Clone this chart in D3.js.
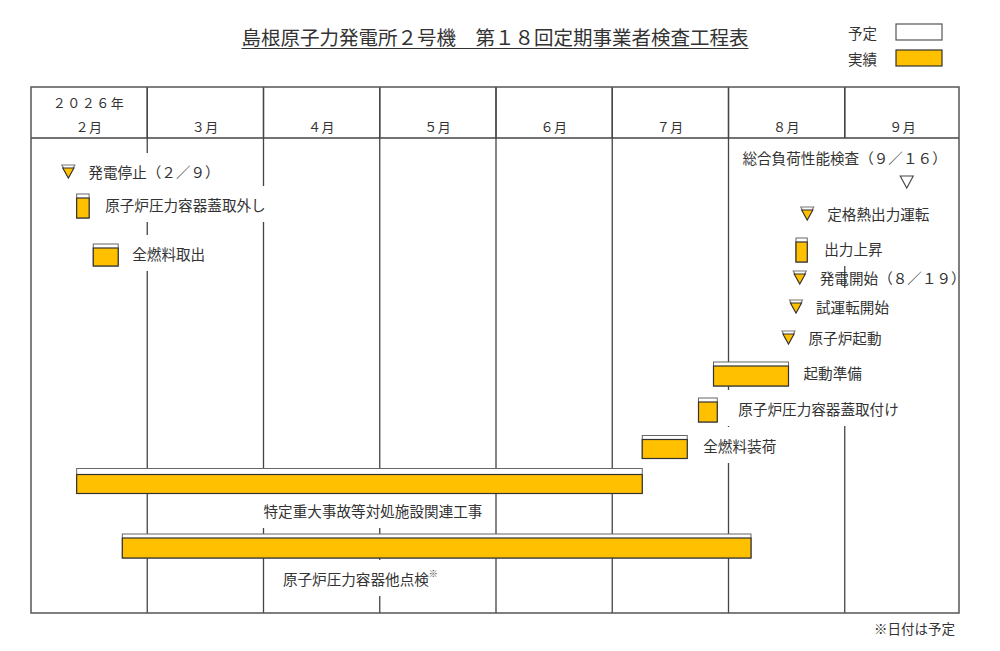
<!DOCTYPE html>
<html>
<head>
<meta charset="utf-8">
<script src="https://cdn.jsdelivr.net/npm/d3@7"></script>
<style>
  body { margin: 0; background: #fff; }
  svg text { font-family: "Noto Sans CJK JP", "Noto Sans", sans-serif; fill: #333; }
</style>
</head>
<body>
<svg id="chart" width="1000" height="651"></svg>
<script>
// ---- data ----
var titleText = '島根原子力発電所２号機　第１８回定期事業者検査工程表';
var yearLabel = '２０２６年';
var months = ['2026-02', '2026-03', '2026-04', '2026-05', '2026-06', '2026-07', '2026-08', '2026-09'];
var monthLabels = ['２月', '３月', '４月', '５月', '６月', '７月', '８月', '９月'];
var legendLabels = ['予定', '実績'];
var footnote = '※日付は予定';

var taskNames = ['原子炉圧力容器蓋取外し', '全燃料取出', '出力上昇', '起動準備',
                 '原子炉圧力容器蓋取付け', '全燃料装荷', '特定重大事故等対処施設関連工事', '原子炉圧力容器他点検'];
var taskStart = ['2026-02-12', '2026-02-16', '2026-08-19', '2026-07-28',
                 '2026-07-24', '2026-07-09', '2026-02-12', '2026-02-23'];
var taskEnd   = ['2026-02-14', '2026-02-21', '2026-08-21', '2026-08-16',
                 '2026-07-28', '2026-07-20', '2026-07-08', '2026-08-06'];
var taskNote  = ['', '', '', '', '', '', '', '※'];

var milestoneNames = ['発電停止（２／９）', '総合負荷性能検査（９／１６）', '定格熱出力運転',
                      '発電開始（８／１９）', '試運転開始', '原子炉起動'];
var milestoneDates = ['2026-02-09', '2026-09-16', '2026-08-21', '2026-08-19', '2026-08-18', '2026-08-16'];
var milestoneDone  = [true, false, true, true, true, true];

// ---- layout ----
var taskRowY   = [206, 255, 250, 374, 410, 447, 481, 546];
var taskBarH   = [24, 22, 24, 24, 24, 23, 25, 24];
var taskLabelDx = [16, 14, 17, 15, 21, 16, 0, 0];
var taskBelow  = [null, null, null, null, null, null, {date: '2026-04-01', y: 510}, {date: '2026-04-06', y: 578}];
var msRowY     = [171, 182, 213, 277, 306, 337];
var msBox      = [true, true, true, false, true, true];

var GOLD = '#FFC000';
var frame = {left: 31, right: 959, top: 87, head: 138, bottom: 613};

var svg = d3.select('#chart');
var parse = d3.timeParse('%Y-%m-%d');
var ym = d3.timeFormat('%Y-%m');

var x = d3.scaleBand().domain(months).range([frame.left, frame.right + 2]);

// position of a date inside its month column; edge 0 = start of day, 1 = end of day
function xDate(s, edge) {
  var d = parse(s);
  var m0 = d3.timeMonth.floor(d);
  var days = d3.timeDay.count(m0, d3.timeMonth.offset(m0, 1));
  return x(ym(d)) + x.bandwidth() * (d.getDate() - 1 + edge) / days;
}

var gridG = svg.append('g');
var boxG = svg.append('g');
var markG = svg.append('g');
var textG = svg.append('g');
var frameG = svg.append('g');

// title
var title = svg.append('text')
  .attr('x', 495).attr('y', 45)
  .attr('text-anchor', 'middle')
  .style('font-size', '19.5px')
  .text(titleText);
var tb = title.node().getBBox();
svg.append('line')
  .attr('x1', tb.x).attr('x2', tb.x + tb.width)
  .attr('y1', 48.5).attr('y2', 48.5)
  .attr('stroke', '#333').attr('stroke-width', 1.2);

// legend
svg.selectAll('.leg-t').data(legendLabels).enter().append('text')
  .attr('x', 848).attr('y', function(d, i) { return 32 + i * 26; })
  .attr('dominant-baseline', 'central')
  .style('font-size', '14.5px')
  .text(function(d) { return d; });
svg.selectAll('.leg-r').data(legendLabels).enter().append('rect')
  .attr('x', 896).attr('y', function(d, i) { return 24 + i * 26; })
  .attr('width', 46).attr('height', 16)
  .attr('fill', function(d, i) { return i ? GOLD : '#fff'; })
  .attr('stroke', function(d, i) { return i ? '#333' : '#555'; })
  .attr('stroke-width', 1.2);

// month grid
gridG.selectAll('line').data(months.slice(1)).enter().append('line')
  .attr('x1', function(d) { return x(d); }).attr('x2', function(d) { return x(d); })
  .attr('y1', frame.top).attr('y2', frame.bottom)
  .attr('stroke', '#444').attr('stroke-width', 1.3);

// header texts
frameG.append('text')
  .attr('x', x(months[0]) + x.bandwidth() / 2).attr('y', 102)
  .attr('text-anchor', 'middle').attr('dominant-baseline', 'central')
  .style('font-size', '13px').style('letter-spacing', '1.5px')
  .text(yearLabel);
frameG.selectAll('.mon').data(months).enter().append('text')
  .attr('x', function(d) { return x(d) + x.bandwidth() / 2; }).attr('y', 126)
  .attr('text-anchor', 'middle').attr('dominant-baseline', 'central')
  .style('font-size', '13px').style('letter-spacing', '0.5px')
  .text(function(d, i) { return monthLabels[i]; });

// header dividers drawn above label boxes
frameG.selectAll('.hd').data(months.slice(1)).enter().append('line')
  .attr('x1', function(d) { return x(d); }).attr('x2', function(d) { return x(d); })
  .attr('y1', frame.top).attr('y2', frame.head)
  .attr('stroke', '#444').attr('stroke-width', 1.3);
frameG.append('line')
  .attr('x1', frame.left).attr('x2', frame.right)
  .attr('y1', frame.head).attr('y2', frame.head)
  .attr('stroke', '#444').attr('stroke-width', 1.5);
frameG.append('rect')
  .attr('x', frame.left).attr('y', frame.top)
  .attr('width', frame.right - frame.left).attr('height', frame.bottom - frame.top)
  .attr('fill', 'none').attr('stroke', '#555').attr('stroke-width', 1.5);

// white box behind a label so it hides the grid lines
function labelBox(node, y0, y1) {
  var b = node.getBBox();
  boxG.append('rect')
    .attr('x', b.x - 12).attr('y', y0)
    .attr('width', b.width + 24).attr('height', y1 - y0)
    .attr('fill', '#fff');
}

// tasks
taskNames.forEach(function(name, i) {
  var x0 = xDate(taskStart[i], 0), x1 = xDate(taskEnd[i], 1);
  var h = taskBarH[i], yc = taskRowY[i], y0 = yc - h / 2;
  var k = h >= 25 ? 6 : 4;
  markG.append('rect')
    .attr('x', x0).attr('y', y0).attr('width', x1 - x0).attr('height', h)
    .attr('fill', '#fff').attr('stroke', '#666').attr('stroke-width', 1);
  markG.append('rect')
    .attr('x', x0).attr('y', y0 + k).attr('width', x1 - x0).attr('height', h - k)
    .attr('fill', GOLD).attr('stroke', '#333').attr('stroke-width', 1.2);

  var t = textG.append('text')
    .attr('dominant-baseline', 'central')
    .style('font-size', '14.6px');
  var ty;
  if (taskBelow[i]) {
    ty = taskBelow[i].y;
    t.attr('x', xDate(taskBelow[i].date, 0)).attr('y', ty);
  } else {
    ty = yc - 2;
    t.attr('x', x1 + taskLabelDx[i]).attr('y', ty);
  }
  t.append('tspan').text(name);
  if (taskNote[i]) {
    t.append('tspan').attr('dy', -5).style('font-size', '9px').text(taskNote[i]);
  }
  labelBox(t.node(), ty - 18, ty + 18);
});

// milestones
milestoneNames.forEach(function(name, i) {
  var cx = xDate(milestoneDates[i], 1), cy = msRowY[i];
  markG.append('polygon')
    .attr('points', [[cx - 6.5, cy - 6], [cx + 6.5, cy - 6], [cx, cy + 6]].join(' '))
    .attr('fill', '#fff').attr('stroke', milestoneDone[i] ? '#777' : '#444').attr('stroke-width', 1.1);
  if (milestoneDone[i]) {
    markG.append('polygon')
      .attr('points', [[cx - 5.6, cy - 3], [cx + 5.6, cy - 3], [cx, cy + 7]].join(' '))
      .attr('fill', GOLD).attr('stroke', '#333').attr('stroke-width', 1.1);
  }

  var t = textG.append('text')
    .attr('dominant-baseline', 'central')
    .style('font-size', '14.6px')
    .text(name);
  if (!milestoneDone[i]) {
    // planned only: label sits above the marker
    t.attr('x', cx + 40).attr('y', cy - 25).attr('text-anchor', 'end');
    labelBox(t.node(), cy - 44, cy + 16);
  } else {
    t.attr('x', cx + 20).attr('y', cy);
    if (msBox[i]) labelBox(t.node(), cy - 18, cy + 18);
  }
});

// footnote
svg.append('text')
  .attr('x', 955).attr('y', 628)
  .attr('text-anchor', 'end').attr('dominant-baseline', 'central')
  .style('font-size', '13.5px')
  .text(footnote);
</script>
</body>
</html>
